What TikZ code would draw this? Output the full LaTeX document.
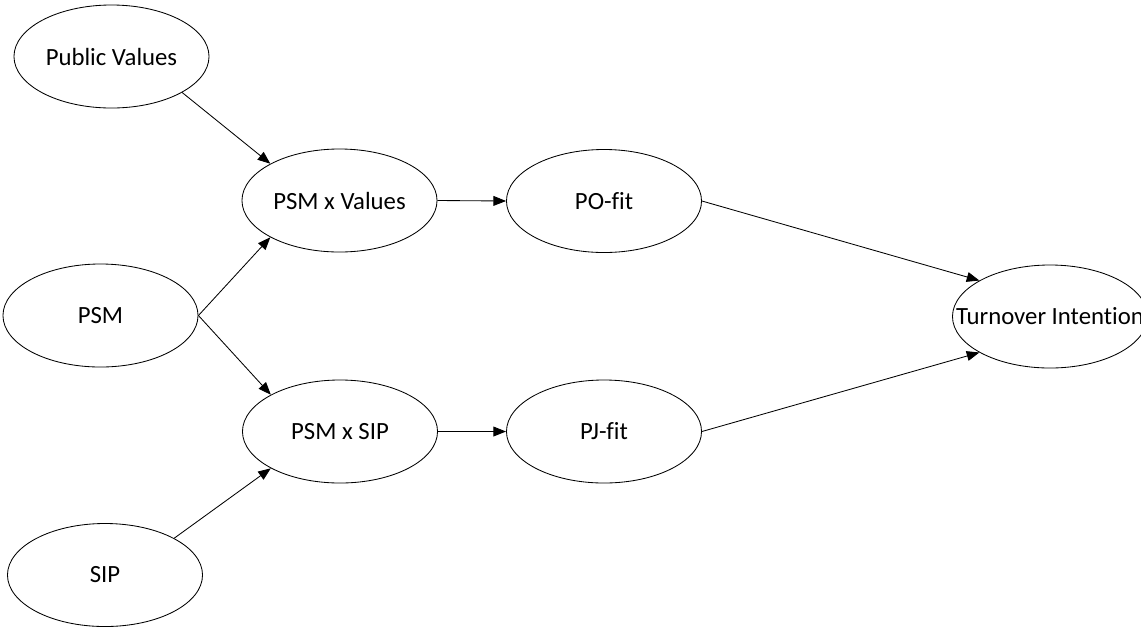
\documentclass[tikz,border=0pt]{standalone}
\usepackage{fontspec}
\setmainfont[Ligatures=NoCommon]{Carlito}
\usepackage{tikz}
\usetikzlibrary{shapes.geometric}
\usetikzlibrary{arrows.meta}

\tikzset{
    var/.style={ellipse, draw, fill=white, inner sep=0pt,
        minimum width=4.875cm, minimum height=2.575cm,
        font=\fontsize{17.6}{21}\selectfont},
    link/.style={-{Triangle[length=9pt, width=7pt]}, line width=0.6pt}
}

\begin{document}
\begin{tikzpicture}[x=0.025cm, y=-0.025cm, line width=0.6pt]

\clip (0,0) rectangle (1141,627);
\useasboundingbox (0,0) rectangle (1141,627);

% Predictors
\node[var] (pv) at (111.5,56.5) {Public Values};
\node[var] (psm) at (100.5,315.5) {PSM};
\node[var] (sip) at (105,575) {SIP};

% Interaction terms
\node[var] (psmv) at (339.5,200.5) {PSM x Values};
\node[var] (psmsip) at (340,431.5) {PSM x SIP};

% Fit
\node[var] (pofit) at (604,201) {PO-fit};
\node[var] (pjfit) at (604,431.5) {PJ-fit};

% Outcome
\node[var] (ti) at (1050,316.5) {\makebox[0pt]{Turnover Intention}};

% Paths into the interaction terms
\draw[link] (pv.-27) -- (psmv.152);
\draw[link] (psm.east) -- (psmv.208);
\draw[link] (psm.east) -- (psmsip.152);
\draw[link] (sip.28) -- (psmsip.208);

% Interaction terms to fit
\draw[link] (psmv.east) -- (pofit.west);
\draw[link] (psmsip.east) -- (pjfit.west);

% Fit to outcome
\draw[link] (pofit.east) -- (ti.153);
\draw[link] (pjfit.east) -- (ti.207);

\end{tikzpicture}
\end{document}
